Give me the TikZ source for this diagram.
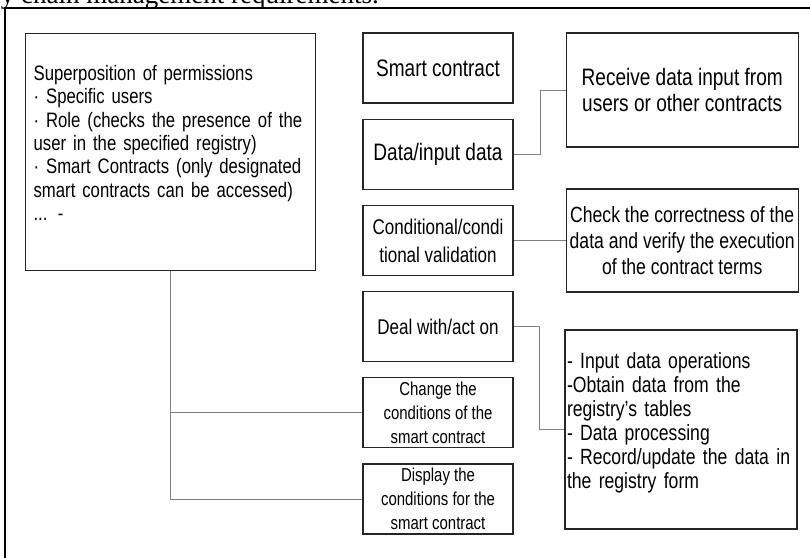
\documentclass[tikz,border=0pt]{standalone}
\usepackage{fontspec}
\setmainfont{Liberation Sans}[FakeStretch=0.8]
\newfontfamily\captionserif{Liberation Serif}
\usepackage{tikz}
\usetikzlibrary{positioning}

\newcommand{\fsleft}{\fontsize{20.9}{23.3}\selectfont}
\newcommand{\fsbig}{\fontsize{23.8}{26.7}\selectfont}
\newcommand{\fsmid}{\fontsize{21.3}{28}\selectfont}
\newcommand{\fscheck}{\fontsize{22}{26}\selectfont}
\newcommand{\fslist}{\fontsize{22}{24}\selectfont}
\newcommand{\fssmall}{\fontsize{18.7}{24}\selectfont}

\tikzset{
    box/.style={draw=black!85, line width=1.2pt, inner sep=2pt, align=center},
    midbox/.style={box, minimum width=150pt, minimum height=70pt},
    link/.style={draw=black!50, line width=0.9pt},
}

\begin{document}
\begin{tikzpicture}[x=1pt, y=-1pt, node distance=15pt]
        \useasboundingbox (0,0) rectangle (810,557);
        \clip (0,0) rectangle (810,557);

        % caption cut off by the top edge, and the frame
        \node[anchor=base east, inner sep=0pt, font=\captionserif\fontsize{27}{30}\selectfont] (caption) at (379,3) {ly chain management requirements.};
        \draw[line width=1.3pt] (5,570) -- (5,8) -- (820,8);

        \node[box, anchor=north west, minimum width=290pt, minimum height=237pt, text width=274pt, inner sep=8pt, text depth=158pt, align=left, font=\fsleft] (perm) at (25,33)
            {Superposition of permissions\\
             · Specific users\\
             · Role (checks the presence of the\\
             user in the specified registry)\\
             · Smart Contracts (only designated\\
             smart contracts can be accessed)\\
             ... -};

        \node[midbox, font=\fsbig]                 (smart)   at (438,68) {Smart contract};
        \node[midbox, font=\fsbig, below=of smart]  (data)    {Data/input data};
        \node[midbox, font=\fsmid, below=of data]   (cond)    {Conditional/condi\\tional validation};
        \node[midbox, font=\fsmid, below=of cond]   (deal)    {Deal with/act on};
        \node[midbox, font=\fssmall, below=of deal]   (change)  {Change the\\conditions of the\\smart contract};
        \node[midbox, font=\fssmall, below=of change] (display) {Display the\\conditions for the\\smart contract};

        \node[box, minimum width=232pt, minimum height=114pt, font=\fsbig, right=52pt of smart.north east, anchor=north west] (receive)
            {Receive data input from\\users or other contracts};
        \node[box, minimum width=232pt, minimum height=103pt, font=\fscheck, right=52pt of cond] (check)
            {Check the correctness of the\\data and verify the execution\\of the contract terms};
        \node[box, minimum width=232pt, minimum height=199pt, text width=228pt, text depth=137pt, align=left, font=\fslist] (tasks) at (681,429.5)
            {- Input data operations\\
             -Obtain data from the\\
             registry's tables\\
             - Data processing\\
             - Record/update the data in\\
             the registry form};

        \draw[link] (data.east) -- ++(27,0) |- (receive.west);
        \draw[link] (cond.east) -- (check.west);
        \draw[link] (deal.east) -- ++(26,0) |- (tasks.west);
        \draw[link] (perm.south) |- (change.west);
        \draw[link] (perm.south) |- (display.west);
\end{tikzpicture}
\end{document}
